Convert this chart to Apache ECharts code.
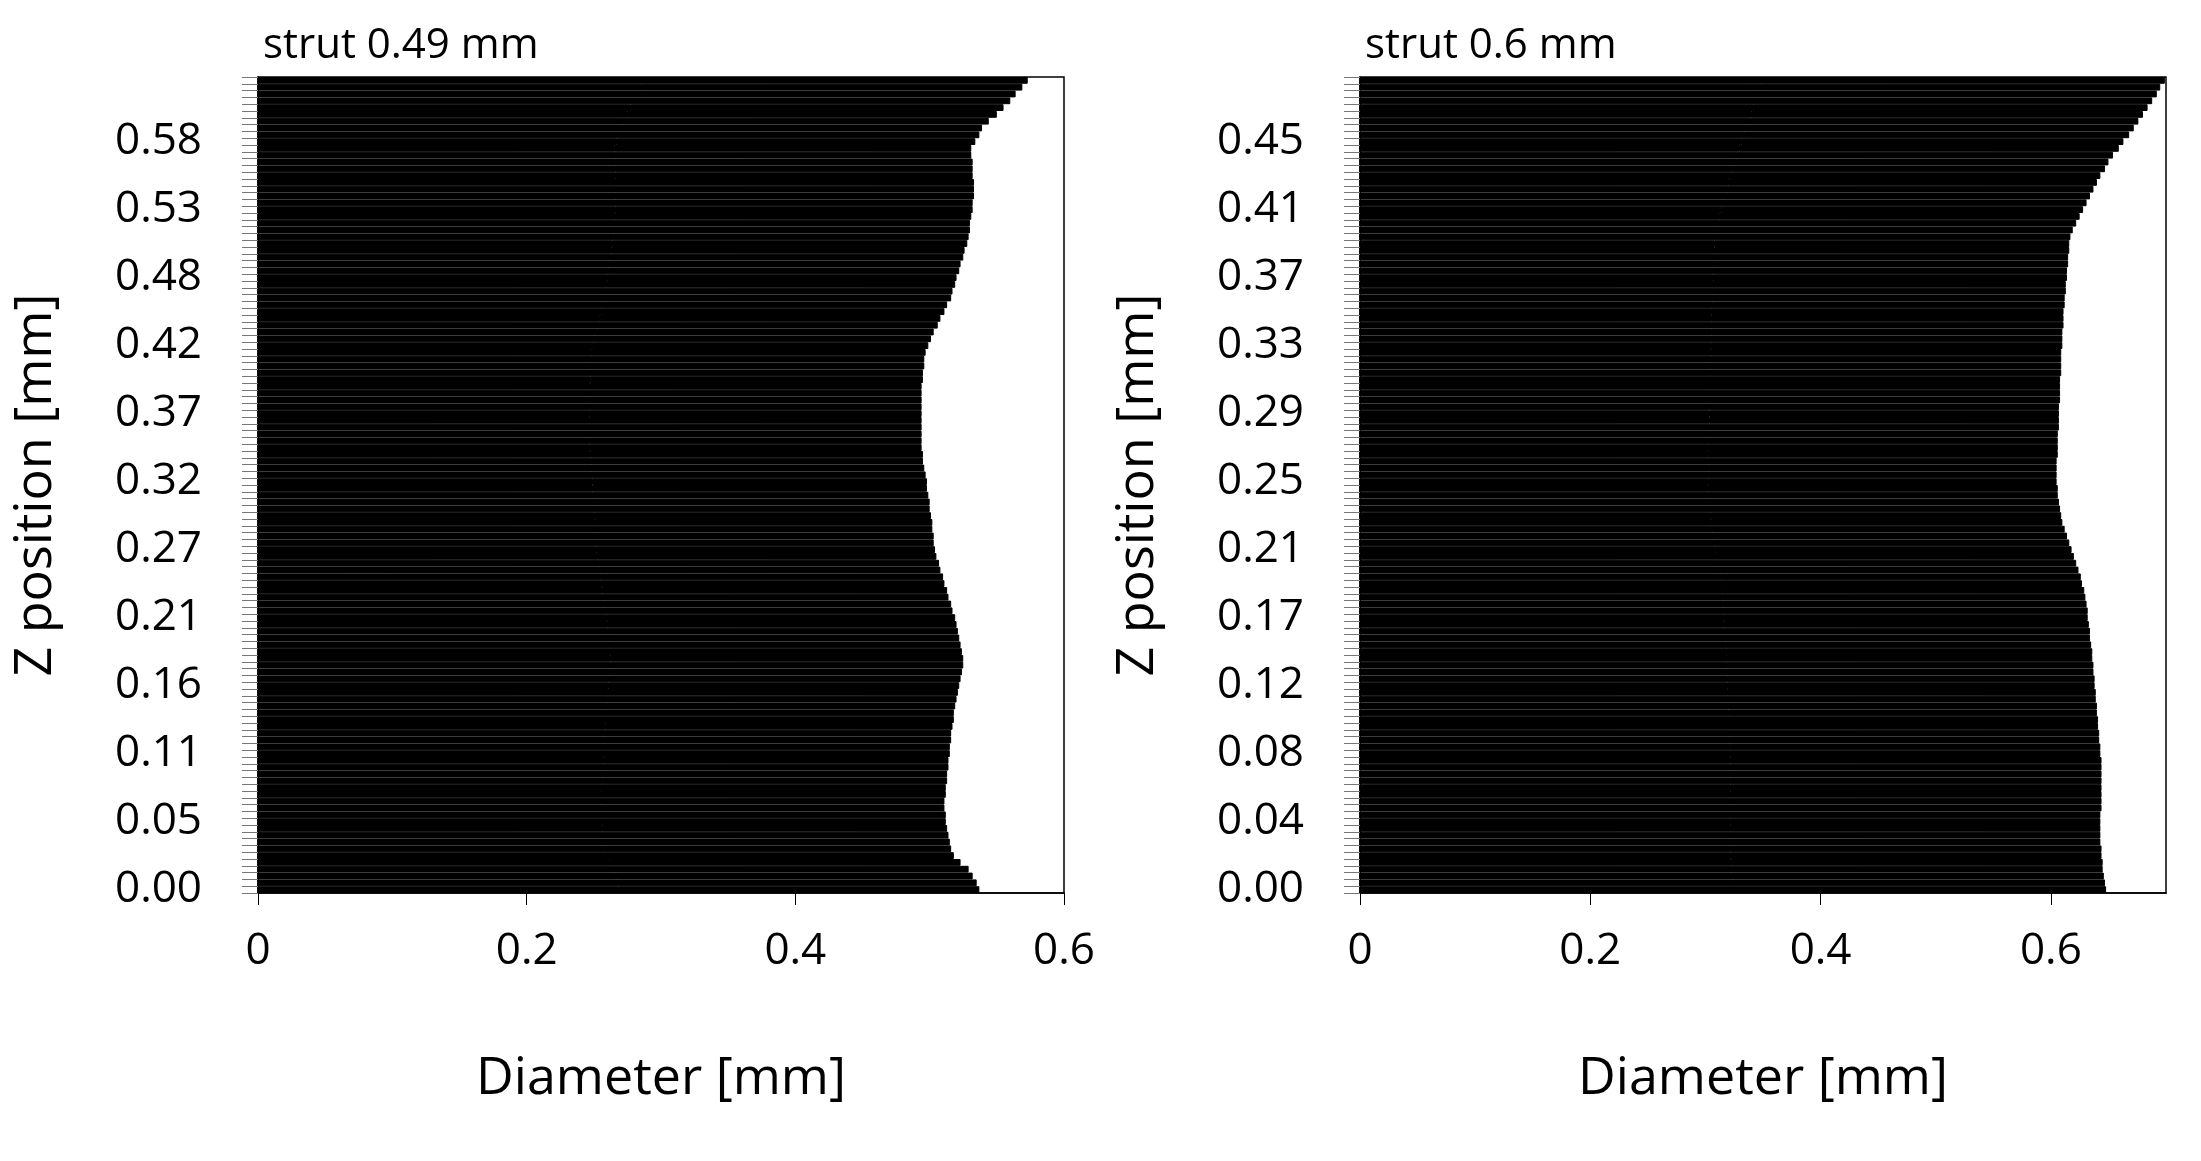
<!DOCTYPE html>
<html>
<head>
<meta charset="utf-8">
<script src="https://cdn.jsdelivr.net/npm/echarts@6/dist/echarts.min.js"></script>
<style>html,body{margin:0;background:#fff}#main{width:2201px;height:1161px}</style>
</head>
<body>
<div id="main"></div>
<script>
// strut 0.49 mm: diameter per z slice (bottom to top)
var leftDiam = [
    0.537,0.535,0.532,0.529, 0.523,0.518,
    0.516,0.515,0.514,0.513,0.512,0.512,0.511,
    0.511,0.512,0.512,0.513,0.513,
    0.514,0.514,0.515,0.515,0.516,0.516,
    0.517,0.518,0.518,0.519,
    0.520,0.521,0.522,0.523,0.524,0.525,0.525,
    0.524,0.523,0.522,0.521,0.520,0.519,
    0.517,0.516,0.514,0.513,0.511,
    0.510,0.508,0.507,0.505,0.504,
    0.503,0.503,0.502,0.502,0.501,0.500,0.500,0.499,
    0.498,0.498,0.497,0.496,0.495,0.495,0.494,
    0.494,0.494,0.494,0.494,0.494,0.494,0.494,0.494,
    0.494,0.495,0.495,0.496,0.496,0.497,
    0.499,0.501,0.503,
    0.506,0.508,0.511,0.513,0.516,
    0.517,0.519,0.520,0.522,0.523,0.525,0.526,0.528,
    0.529,0.530,0.530,0.531,0.532,0.532,0.533,
    0.533,0.533,0.532,0.532,0.532,0.531,0.531,
    0.534,0.537,0.539,
    0.544,0.550,0.555,
    0.560,0.564,0.569,0.573
];
// strut 0.6 mm
var rightDiam = [
    0.648,0.647,0.646,0.645,0.645,0.644,0.644,0.643,
    0.643,0.643,0.643,0.643,0.644,0.644,0.644,0.644,0.644,0.644,0.644,0.644,
    0.643,0.643,0.642,0.642,0.641,0.641,0.640,0.640,0.639,0.639,0.638,0.638,0.637,0.637,
    0.636,0.636,0.635,0.634,0.634,0.633,0.632,0.632,0.631,0.630,0.629,
    0.627,0.626,0.624,0.622,0.620,
    0.618,0.616,0.614,0.612,0.610,
    0.609,0.608,0.607,0.606,0.606,0.605,
    0.605,0.605,0.605,0.606,0.606,0.606,0.606,0.607,0.607,
    0.607,0.607,0.608,0.608,0.608,0.608,0.609,0.609,0.609,0.609,0.610,0.610,0.610,0.611,0.611,
    0.611,0.612,0.612,0.613,0.613,0.614,0.614,0.615,0.615,0.616,0.616,0.617,
    0.619,0.622,
    0.625,0.628,0.631,0.634,0.637,0.640,0.643,0.647,0.650,
    0.654,0.659,0.663,0.668,0.672,
    0.676,0.680,0.684,0.688,0.692,0.695,0.699
];
var leftStep = 0.0053;   // mm per slice
var rightStep = 0.00413;
var titles = ['strut 0.49 mm', 'strut 0.6 mm'];
var xMax = [0.6, 0.7];

function zCats(n, step) {
    var out = [];
    for (var i = 0; i < n; i++) out.push((Math.round(i * step * 100 + 1e-6) / 100).toFixed(2));
    return out;
}
var leftZ = zCats(leftDiam.length, leftStep);
var rightZ = zCats(rightDiam.length, rightStep);

var font = 'Open Sans';
var grids = [
    {left: 258, width: 806, top: 77, height: 816},
    {left: 1360, width: 806, top: 77, height: 816}
];
var xAxes = [], yAxes = [], series = [], titleList = [];
[[leftZ, leftDiam], [rightZ, rightDiam]].forEach(function (p, k) {
    grids[k].show = true;
    grids[k].borderColor = '#000';
    grids[k].borderWidth = 1.5;
    titleList.push({
        text: titles[k], left: grids[k].left, top: 20,
        textStyle: {fontFamily: font, fontSize: 42, fontWeight: 'normal', color: '#000'}
    });
    xAxes.push({
        type: 'value', gridIndex: k, min: 0, max: xMax[k], interval: 0.2,
        name: 'Diameter [mm]', nameLocation: 'middle', nameGap: 160,
        nameTextStyle: {fontFamily: font, fontSize: 52, color: '#000'},
        axisLine: {show: true, lineStyle: {color: '#000', width: 1.5}},
        axisTick: {show: true, length: 12, lineStyle: {color: '#000'}},
        axisLabel: {fontFamily: font, fontSize: 44, color: '#000', margin: 36, showMaxLabel: k === 0},
        splitLine: {show: false}
    });
    yAxes.push({
        type: 'category', gridIndex: k, data: p[0],
        name: 'Z position [mm]', nameLocation: 'middle', nameGap: 196, nameRotate: 90,
        nameTextStyle: {fontFamily: font, fontSize: 52, color: '#000'},
        axisLine: {show: true, lineStyle: {color: '#000', width: 1.5}},
        axisTick: {show: true, interval: 0, length: 16, lineStyle: {color: '#777', width: 1}},
        axisLabel: {interval: 9, fontFamily: font, fontSize: 44, color: '#000', margin: 56},
        splitLine: {show: false}
    });
    series.push({
        type: 'bar', xAxisIndex: k, yAxisIndex: k, data: p[1],
        barCategoryGap: '0%', barWidth: '100%',
        itemStyle: {color: '#000', borderColor: '#000', borderWidth: 1},
        silent: true, animation: false
    });
});

var chart = echarts.init(document.getElementById('main'));
chart.setOption({
    backgroundColor: '#fff',
    animation: false,
    title: titleList,
    grid: grids,
    xAxis: xAxes,
    yAxis: yAxes,
    series: series
});
</script>
</body>
</html>
